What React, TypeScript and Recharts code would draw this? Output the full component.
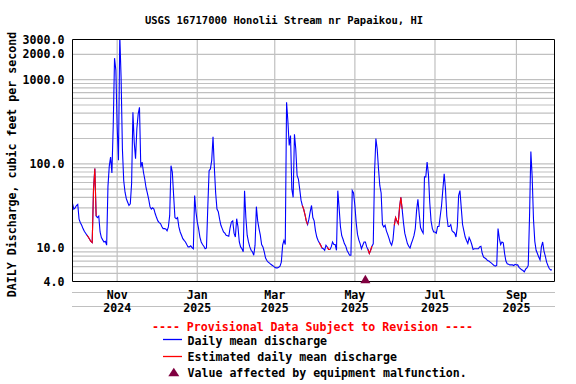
import React from 'react';
import { LineChart, Line, XAxis, YAxis, ReferenceLine } from 'recharts';

// Day index 0 = 2024-09-28 (daily mean discharge, cubic feet per second)
const discharge: number[] = [
  34, 29, 30, 32, 33, 22, 20, 18.6, 17, 15.8,
  15, 14.2, 13.5, 12.7, 12, 11.6, 50, 88, 24, 23,
  24, 15.5, 13.3, 12.5, 11.8, 12, 10.8, 54, 94, 120,
  78, 280, 1800, 1300, 280, 110, 3400, 1050, 150, 63,
  46, 38.5, 35, 32, 33.5, 58, 410, 180, 115, 260,
  390, 470, 91, 105, 80, 66, 52, 45, 38, 31,
  29, 30, 29, 25.5, 23, 21, 20, 19.5, 18, 17,
  17, 16.8, 16, 17.8, 24.4, 95, 80, 42, 23, 22.3,
  23, 17.8, 15.5, 14.2, 12.9, 12.3, 11.8, 11, 10.3, 10.3,
  10.6, 10.1, 9.8, 42, 27, 20.4, 17, 13.5, 11.8, 11,
  10.5, 9.8, 10, 30, 83, 87, 110, 210, 90, 45,
  29, 27, 22, 18.6, 17, 15.5, 15, 14.2, 14, 13.8,
  17.4, 20.4, 21, 15, 13.5, 22.3, 17.8, 11.8, 10.3, 9.8,
  9, 48, 23, 14.2, 11.8, 10.3, 9.4, 9, 8.2, 10.8,
  31, 21, 17, 14.2, 11, 10.3, 9, 7.6, 7.1, 6.8,
  6.6, 6.4, 6.25, 6.1, 5.9, 5.8, 5.8, 5.9, 6.1, 6.8,
  10.8, 12.3, 11, 540, 320, 165, 217, 50, 40, 225,
  150, 73, 66, 50, 37, 32, 29, 25, 21, 19,
  22, 27, 32, 23, 21, 16, 13.5, 12.3, 11.5, 10.8,
  10, 9.8, 9.4, 10.8, 10.3, 9.6, 9.6, 10.3, 11.8, 11,
  11, 9.4, 48, 30, 18, 14, 12.7, 11.3, 10.6, 9.4,
  8.8, 8.2, 8.2, 48, 45, 32, 20, 14.5, 12.5, 11.3,
  9.8, 10.8, 11.8, 11.8, 10.3, 9.6, 8.6, 9.4, 10.5, 11.2,
  80, 200, 150, 87, 55, 45, 19, 17.8, 18.6, 16,
  14.5, 13, 11.5, 10.8, 12.5, 18.6, 23, 21, 19.5, 30,
  40, 29, 20, 15, 13, 11.3, 10.5, 10, 11.3, 12.5,
  14, 17, 28, 38, 25, 17.5, 16, 15, 70, 70,
  105, 75, 35, 21, 17, 15.5, 15.5, 15, 18, 18,
  24, 32, 50, 76, 50, 24, 18, 18, 19, 16,
  15.5, 15, 13.5, 18, 42, 48, 30, 19, 16, 13.5,
  12.3, 11.3, 13.3, 12.3, 11, 9.6, 9.8, 9.8, 9.8, 9.8,
  10.3, 10.5, 8.6, 7.8, 7.6, 7.4, 7.1, 7, 6.8, 6.6,
  6.4, 6.2, 6.1, 6.2, 17, 13, 11, 11.8, 11.5, 8.6,
  7, 6.5, 6.4, 6.3, 6.3, 6.3, 6.2, 6.4, 6.3, 6.3,
  5.9, 5.7, 5.5, 5.4, 5.2, 5.6, 5.8, 6.2, 24, 140,
  70, 22, 12, 9.4, 8.6, 7.8, 7.2, 10.3, 11.8, 9.2,
  8, 6.8, 6.2, 5.7, 5.5, 5.5,
];

const estimatedRanges: [number, number][] = [
  [11, 18], [175, 179], [188, 190], [194, 196], [225, 228], [245, 251],
];
const malfunctionDays = [223];
const malfunctionLevel = 4.3;

const monthTicks = [34, 95, 154, 215, 276, 338];
const monthLabels = ['Nov', 'Jan', 'Mar', 'May', 'Jul', 'Sep'];
const yearLabels = ['2024', '2025', '2025', '2025', '2025', '2025'];
const yTicks = [4, 10, 100, 1000, 2000, 3000];
const gridValues = [5, 6, 7, 8, 9, 10, 20, 30, 40, 50, 60, 70, 80, 90, 100, 200, 300, 400, 500, 600, 700, 800, 900, 1000, 2000];
const xDomain: [number, number] = [0, 367];
const yDomain: [number, number] = [4, 3000];

const isEstimated = (i: number) => estimatedRanges.some(([a, b]) => i >= a && i <= b);
const data = discharge.map((q, i) => ({
  day: i,
  q,
  est: isEstimated(i) ? q : null,
  malf: malfunctionDays.includes(i) ? malfunctionLevel : null,
}));

const FONT = "'DejaVu Sans Mono', 'Liberation Mono', monospace";
const txt: React.CSSProperties = { fontFamily: FONT, fontWeight: 'bold', fontSize: 11.6 };

const BLUE = '#0000ff';
const RED = '#ff0000';
const MAROON = '#800040';
const GRID = 'rgb(192,192,192)';

const XTick = (props: any) => {
  const { x, y, payload } = props;
  const i = monthTicks.indexOf(payload?.value);
  return (
    <g>
      <text x={x} y={y + 17.5} textAnchor="middle" fill="#000" style={txt}>{monthLabels[i]}</text>
      <text x={x} y={y + 30.5} textAnchor="middle" fill="#000" style={txt}>{yearLabels[i]}</text>
    </g>
  );
};

const TriangleDot = (props: any) => {
  const { cx, cy, payload, index } = props;
  if (payload?.malf == null || cx == null || cy == null) return <g key={`n${index}`} />;
  return (
    <path
      key={`m${index}`}
      d={`M${cx},${cy - 4} L${cx + 5},${cy + 4.4} L${cx - 5},${cy + 4.4} Z`}
      fill={MAROON}
    />
  );
};

export default function App() {
  return (
    <div style={{ position: 'absolute', left: 0, top: 0, width: 576, height: 384, background: '#fff' }}>
      <svg width={576} height={384} style={{ position: 'absolute', left: 0, top: 0 }}>
        <rect x={72} y={292} width={483} height={1} fill={GRID} />
        <rect x={72} y={306} width={483} height={1} fill={GRID} />
      </svg>
      <div style={{ position: 'absolute', left: 0, top: 0 }}>
        <LineChart
          width={576}
          height={384}
          data={data}
          margin={{ top: 39.5, right: 21.5, bottom: 62.5, left: 0.5 }}
        >
          {gridValues.map((v) => (
            <ReferenceLine key={`h${v}`} y={v} stroke={GRID} strokeWidth={1.2} strokeOpacity={1} />
          ))}
          {monthTicks.map((v) => (
            <ReferenceLine key={`v${v}`} x={v} stroke={GRID} strokeWidth={1.2} strokeOpacity={1} />
          ))}
          <XAxis
            dataKey="day"
            type="number"
            domain={xDomain}
            ticks={monthTicks}
            interval={0}
            tick={<XTick />}
            tickLine={false}
            tickSize={0}
            tickMargin={0}
            height={40}
            axisLine={{ stroke: '#000', strokeWidth: 1 }}
          />
          <YAxis
            type="number"
            scale="log"
            domain={yDomain}
            allowDataOverflow
            ticks={yTicks}
            interval={0}
            tickFormatter={(v: number) => v.toFixed(1)}
            width={72}
            tickLine={false}
            tickSize={0}
            tickMargin={8}
            axisLine={{ stroke: '#000', strokeWidth: 1 }}
            tick={{ fill: '#000', ...txt }}
          />
          <YAxis yAxisId="m" type="number" scale="log" domain={yDomain} hide />
          <Line
            dataKey="q"
            type="linear"
            stroke={BLUE}
            strokeWidth={1.1}
            dot={false}
            activeDot={false}
            isAnimationActive={false}
          />
          <Line
            dataKey="est"
            type="linear"
            stroke={RED}
            strokeWidth={1.1}
            dot={false}
            activeDot={false}
            connectNulls={false}
            isAnimationActive={false}
          />
          <Line
            yAxisId="m"
            dataKey="malf"
            type="linear"
            stroke="none"
            dot={TriangleDot}
            activeDot={false}
            isAnimationActive={false}
          />
          <ReferenceLine y={3000} stroke="#000" strokeWidth={1} />
          <ReferenceLine x={367} stroke="#000" strokeWidth={1} />
        </LineChart>
      </div>
      <svg width={576} height={384} style={{ position: 'absolute', left: 0, top: 0, pointerEvents: 'none' }}>
        <text x={284} y={24} textAnchor="middle" fill="#000" style={{ ...txt, fontSize: 10.5 }}>
          USGS 16717000 Honolii Stream nr Papaikou, HI
        </text>
        <text
          x={16}
          y={164.5}
          transform="rotate(-90 16 164.5)"
          textAnchor="middle"
          fill="#000"
          style={txt}
        >
          DAILY Discharge, cubic feet per second
        </text>
        <text x={312.5} y={330.5} textAnchor="middle" fill={RED} style={txt}>
          ---- Provisional Data Subject to Revision ----
        </text>
        <line x1={163} x2={182} y1={339.5} y2={339.5} stroke={BLUE} strokeWidth={1.3} />
        <text x={187.5} y={344.5} fill="#000" style={txt}>Daily mean discharge</text>
        <line x1={163} x2={182} y1={356.5} y2={356.5} stroke={RED} strokeWidth={1.3} />
        <text x={187.5} y={360.5} fill="#000" style={txt}>Estimated daily mean discharge</text>
        <path d="M173.8,367.8 L179.3,376.3 L168.3,376.3 Z" fill={MAROON} />
        <text x={187.5} y={376.5} fill="#000" style={txt}>Value affected by equipment malfunction.</text>
      </svg>
    </div>
  );
}
